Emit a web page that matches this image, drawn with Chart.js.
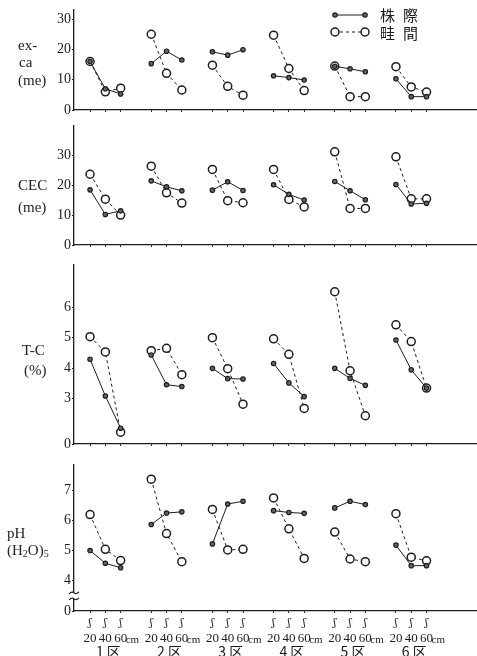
<!DOCTYPE html>
<html>
<head>
<meta charset="utf-8">
<script src="https://cdn.jsdelivr.net/npm/chart.js@4.4.0/dist/chart.umd.min.js"></script>
<style>
  body { margin: 0; background: #fff; width: 477px; height: 656px; overflow: hidden; position: relative; font-family: "Liberation Serif", serif; color: #222; }
  canvas { position: absolute; left: 0; }
  .lab { position: absolute; font-size: 15px; line-height: 1; white-space: nowrap; }
  .lab sub { font-size: 10px; vertical-align: -2px; }
</style>
</head>
<body>
<canvas id="c1" width="477" height="120" style="top:0px"></canvas>
<canvas id="c2" width="477" height="143" style="top:112px"></canvas>
<canvas id="c3" width="477" height="199" style="top:255px"></canvas>
<canvas id="c4" width="477" height="201" style="top:455px"></canvas>

<div class="lab" style="left:18px;top:38px">ex-</div>
<div class="lab" style="left:19px;top:55px">ca</div>
<div class="lab" style="left:18px;top:73px">(me)</div>
<div class="lab" style="left:18px;top:178px">CEC</div>
<div class="lab" style="left:18px;top:200px">(me)</div>
<div class="lab" style="left:22px;top:343px">T-C</div>
<div class="lab" style="left:24px;top:363px">(%)</div>
<div class="lab" style="left:7px;top:526px">pH</div>
<div class="lab" style="left:7px;top:543px">(H<sub>2</sub>O)<sub>5</sub></div>

<script>
const depths = ['20', '40', '60'];
const plots = ['1 区', '2 区', '3 区', '4 区', '5 区', '6 区'];
const seriesNames = ['株際', '畦間'];

// 20,40,60cm for each plot
const excaKabu = [16, 7, 5.3, 15.3, 19.4, 16.5, 19.2, 18.1, 19.9, 11.3, 10.7, 9.9, 14.4, 13.6, 12.6, 10.3, 4.4, 4.4];
const excaUne = [16, 6, 7.2, 25, 12.1, 6.6, 14.8, 7.8, 4.9, 24.7, 13.7, 6.4, 14.5, 4.4, 4.4, 14.3, 7.6, 5.9];
const cecKabu = [18.4, 10.2, 11.4, 21.4, 19.4, 18.1, 18.3, 21.1, 18.2, 20.1, 16.9, 15, 21.2, 18.1, 15.1, 20.2, 13.7, 13.9];
const cecUne = [23.6, 15.3, 10, 26.3, 17.4, 14, 25.2, 14.8, 14.1, 25.2, 15.2, 12.7, 31.1, 12.2, 12.2, 29.4, 15.4, 15.4];
const tcKabu = [4.29, 3.08, 2.02, 4.43, 3.45, 3.39, 3.99, 3.65, 3.64, 4.15, 3.51, 3.06, 3.99, 3.66, 3.43, 4.92, 3.94, 3.34];
const tcUne = [5.03, 4.53, 1.89, 4.57, 4.65, 3.78, 5.0, 3.98, 2.81, 4.96, 4.45, 2.67, 6.51, 3.91, 2.43, 5.42, 4.87, 3.34];
const phKabu = [5.0, 4.58, 4.43, 5.86, 6.24, 6.28, 5.22, 6.54, 6.63, 6.32, 6.26, 6.23, 6.41, 6.63, 6.52, 5.18, 4.5, 4.5];
const phUne = [6.19, 5.04, 4.67, 7.36, 5.56, 4.63, 6.36, 5.02, 5.04, 6.74, 5.72, 4.74, 5.61, 4.72, 4.63, 6.22, 4.78, 4.66];

const excaTicks = [0, 10, 20, 30];
const cecTicks = [0, 10, 20, 30];
const tcTicks = [1.5, 3, 4, 5, 6];   // 1.5 sits at the broken "0"
const phTicks = [3, 4, 5, 6, 7];     // 3 sits at the broken "0"

Chart.defaults.font.family = '"Liberation Serif", serif';
Chart.defaults.color = '#222';

const ink = '#1c1c1c';

// one point per depth, a null between plots so lines break
function toPoints(vals) {
  const pts = [];
  plots.forEach((p, g) => {
    depths.forEach((d, i) => pts.push({ x: g * 4 + i, y: vals[g * 3 + i] }));
    pts.push({ x: g * 4 + 3, y: null });
  });
  return pts;
}

const xPositions = [];
plots.forEach((p, g) => depths.forEach((d, i) => xPositions.push(g * 4 + i)));

const legendPlugin = {
  id: 'legendBox',
  afterDraw(chart) {
    const ctx = chart.ctx;
    ctx.save();
    ctx.strokeStyle = ink;
    ctx.lineWidth = 1;
    // 株際
    ctx.beginPath(); ctx.moveTo(335, 15); ctx.lineTo(365, 15); ctx.stroke();
    [335, 365].forEach(x => {
      ctx.beginPath(); ctx.arc(x, 15, 2.2, 0, Math.PI * 2);
      ctx.fillStyle = '#666'; ctx.fill(); ctx.lineWidth = 1.2; ctx.stroke();
    });
    // 畦間
    ctx.setLineDash([3, 3]); ctx.lineWidth = 1;
    ctx.beginPath(); ctx.moveTo(340, 32); ctx.lineTo(361, 32); ctx.stroke();
    ctx.setLineDash([]);
    [335, 365].forEach(x => {
      ctx.beginPath(); ctx.arc(x, 32, 4, 0, Math.PI * 2);
      ctx.fillStyle = '#fff'; ctx.fill(); ctx.lineWidth = 1.5; ctx.stroke();
    });
    ctx.fillStyle = ink;
    ctx.font = '15px "Noto Sans CJK JP"';
    ctx.textBaseline = 'middle';
    seriesNames.forEach((name, k) => {
      const yy = k === 0 ? 15 : 33;
      ctx.fillText(name[0], 380, yy);
      ctx.fillText(name[1], 403, yy);
    });
    ctx.restore();
  }
};

const xLabelPlugin = {
  id: 'xLabels',
  afterDraw(chart) {
    const { ctx, chartArea, scales } = chart;
    const x = scales.x;
    const b = chartArea.bottom;
    ctx.save();
    ctx.fillStyle = ink;
    ctx.textBaseline = 'middle';
    plots.forEach((p, g) => {
      depths.forEach((d, i) => {
        const px = x.getPixelForValue(g * 4 + i);
        ctx.textAlign = 'center';
        ctx.font = '11px "DejaVu Serif"';
        ctx.fillText('ʃ', px, b + 12);
        ctx.font = '13px "Liberation Serif"';
        ctx.fillText(d, px, b + 28);
      });
      const p60 = x.getPixelForValue(g * 4 + 2);
      ctx.textAlign = 'left';
      ctx.font = '11px "Liberation Serif"';
      ctx.fillText('cm', p60 + 5, b + 29);
      ctx.textAlign = 'center';
      ctx.font = '14px "Noto Sans CJK JP"';
      ctx.fillText(p, x.getPixelForValue(g * 4 + 1) + 3, b + 41);
    });
    // axis break marks on pH
    const y = chart.scales.y;
    const ax = chartArea.left;
    const yb = y.getPixelForValue(3.5);
    ctx.fillStyle = '#fff';
    ctx.fillRect(ax - 2, yb - 3, 4, 6);
    ctx.strokeStyle = ink;
    ctx.lineWidth = 1.2;
    [yb - 3, yb + 3].forEach(yy => {
      ctx.beginPath();
      ctx.moveTo(ax - 5, yy + 1);
      ctx.quadraticCurveTo(ax - 2, yy - 2, ax, yy);
      ctx.quadraticCurveTo(ax + 2, yy + 2, ax + 5, yy - 1);
      ctx.stroke();
    });
    ctx.restore();
  }
};

function makePanel(id, kabu, une, yMin, yMax, ticks, breakAt, padTop, hx, plugins) {
  new Chart(document.getElementById(id), {
    type: 'line',
    data: {
      datasets: [
        {
          label: seriesNames[0],
          data: toPoints(kabu),
          borderColor: ink,
          borderWidth: 1,
          pointRadius: 2.2,
          pointBackgroundColor: '#666',
          pointBorderColor: ink,
          pointBorderWidth: 1.2,
          tension: 0
        },
        {
          label: seriesNames[1],
          data: toPoints(une),
          borderColor: ink,
          borderWidth: 1,
          borderDash: [3, 3],
          pointRadius: 4,
          pointBackgroundColor: '#fff',
          pointBorderColor: ink,
          pointBorderWidth: 1.5,
          tension: 0
        }
      ]
    },
    options: {
      responsive: false,
      animation: false,
      layout: { autoPadding: false, padding: { top: padTop, left: 0, right: 0, bottom: 0 } },
      plugins: { legend: { display: false }, tooltip: { enabled: false } },
      scales: {
        x: {
          type: 'linear',
          min: -1.05,
          max: 25.3,
          afterBuildTicks: s => { s.ticks = xPositions.map(v => ({ value: v })); },
          afterFit: s => { s.height = hx; },
          ticks: { display: false },
          grid: { drawOnChartArea: false, tickLength: 2, color: ink },
          border: { color: ink, width: 1.3 }
        },
        y: {
          min: yMin,
          max: yMax,
          afterBuildTicks: s => { s.ticks = ticks.map(v => ({ value: v })); },
          afterFit: s => { s.width = 74; },
          ticks: {
            padding: 1,
            font: { size: 14 },
            color: ink,
            callback: v => (v === breakAt ? '0' : String(v))
          },
          grid: { drawOnChartArea: false, tickLength: 2, color: ink },
          border: { color: ink, width: 1.3 }
        }
      }
    },
    plugins: plugins
  });
}

makePanel('c1', excaKabu, excaUne, 0, 33, excaTicks, 0, 10, 10, [legendPlugin]);
makePanel('c2', cecKabu, cecUne, 0, 39.7, cecTicks, 0, 14, 10, []);
makePanel('c3', tcKabu, tcUne, 1.5, 7.39, tcTicks, 1.5, 10, 10, []);
makePanel('c4', phKabu, phUne, 3, 7.83, phTicks, 3, 10, 45, [xLabelPlugin]);
</script>
</body>
</html>
